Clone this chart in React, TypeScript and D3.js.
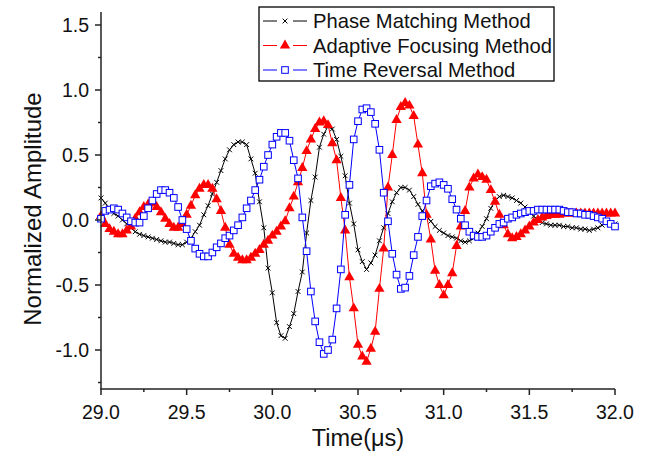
import React from "react";
import * as d3 from "d3";

// sampling grid of the signals (us)
const tStart = 29.0;
const tStep = 0.025;

const phaseMatching = [
  0.17, 0.13, 0.08, 0.05, 0.03, 0.0, -0.03, -0.06, -0.09, -0.11,
  -0.12, -0.13, -0.14, -0.15, -0.16, -0.17, -0.17, -0.18, -0.19, -0.19,
  -0.17, -0.14, -0.09, -0.04, 0.04, 0.11, 0.2, 0.29, 0.38, 0.47,
  0.54, 0.58, 0.6, 0.6, 0.58, 0.47, 0.36, 0.14, -0.06, -0.37,
  -0.56, -0.79, -0.89, -0.91, -0.82, -0.72, -0.55, -0.4, -0.1, 0.15,
  0.33, 0.56, 0.66, 0.72, 0.7, 0.62, 0.49, 0.34, 0.13, -0.03,
  -0.23, -0.32, -0.38, -0.33, -0.27, -0.16, -0.06, 0.05, 0.14, 0.21,
  0.25, 0.25, 0.23, 0.18, 0.12, 0.07, 0.03, -0.01, -0.05, -0.08,
  -0.1, -0.12, -0.13, -0.14, -0.16, -0.17, -0.16, -0.14, -0.1, -0.05,
  0.01, 0.09, 0.15, 0.18, 0.19, 0.18, 0.17, 0.15, 0.13, 0.1,
  0.06, 0.03, 0.0, -0.02, -0.03, -0.04, -0.04, -0.04, -0.05, -0.05,
  -0.06, -0.06, -0.07, -0.07, -0.08, -0.07, -0.06, -0.04, -0.02, -0.02,
  -0.03,
];

const adaptiveFocusing = [
  0.03, -0.03, -0.07, -0.09, -0.11, -0.11, -0.08, -0.05, 0.01, 0.06,
  0.1, 0.12, 0.13, 0.1, 0.06, 0.01, -0.03, -0.06, -0.06, -0.03,
  0.04, 0.11, 0.19, 0.24, 0.27, 0.27, 0.24, 0.16, 0.07, -0.06,
  -0.19, -0.26, -0.29, -0.31, -0.31, -0.29, -0.26, -0.23, -0.19, -0.16,
  -0.12, -0.09, -0.05, -0.01, 0.09, 0.18, 0.29, 0.4, 0.53, 0.62,
  0.7, 0.75, 0.76, 0.73, 0.59, 0.46, 0.17, -0.08, -0.44, -0.68,
  -0.96, -1.05, -1.09, -0.99, -0.86, -0.53, -0.22, 0.25, 0.5, 0.77,
  0.87, 0.9, 0.88, 0.8, 0.58, 0.36, 0.04, -0.15, -0.39, -0.5,
  -0.58, -0.5, -0.41, -0.2, -0.05, 0.07, 0.25, 0.32, 0.35, 0.33,
  0.31, 0.23, 0.14, 0.04, -0.04, -0.11, -0.14, -0.13, -0.11, -0.08,
  -0.05, -0.02, 0.0, 0.02, 0.03, 0.04, 0.04, 0.04, 0.05, 0.05,
  0.05, 0.05, 0.05, 0.05, 0.05, 0.05, 0.05, 0.05, 0.05, 0.05,
  0.05,
];

const timeReversal = [
  0.01, 0.07, 0.08, 0.09, 0.08, 0.05, 0.02, -0.01, -0.02, -0.02,
  0.03, 0.09, 0.15, 0.2, 0.23, 0.23, 0.21, 0.17, 0.1, 0.0,
  -0.07, -0.16, -0.22, -0.26, -0.28, -0.28, -0.25, -0.21, -0.18, -0.14,
  -0.12, -0.08, -0.04, 0.02, 0.09, 0.15, 0.23, 0.31, 0.41, 0.5,
  0.58, 0.64, 0.67, 0.67, 0.61, 0.46, 0.32, 0.02, -0.24, -0.55,
  -0.78, -0.94, -1.03, -1.0, -0.92, -0.68, -0.38, 0.04, 0.27, 0.62,
  0.76, 0.85, 0.86, 0.83, 0.74, 0.54, 0.21, -0.01, -0.26, -0.42,
  -0.53, -0.52, -0.43, -0.27, -0.13, 0.03, 0.15, 0.26, 0.28, 0.29,
  0.27, 0.24, 0.16, 0.08, 0.01, -0.04, -0.09, -0.12, -0.13, -0.13,
  -0.12, -0.09, -0.06, -0.03, -0.02, 0.01, 0.02, 0.04, 0.05, 0.06,
  0.07, 0.07, 0.08, 0.08, 0.08, 0.08, 0.08, 0.08, 0.07, 0.06,
  0.06, 0.05, 0.05, 0.04, 0.04, 0.03, 0.02, 0.01, -0.01, -0.03,
  -0.05,
];

const xTicks = [29.0, 29.5, 30.0, 30.5, 31.0, 31.5, 32.0];
const yTicks = [-1.0, -0.5, 0.0, 0.5, 1.0, 1.5];
const legendLabels = [
  "Phase Matching Method",
  "Adaptive Focusing Method",
  "Time Reversal Method",
];

const W = 646;
const H = 460;
const FONT = "'Liberation Sans', Arial, sans-serif";

const x = d3.scaleLinear().domain([29, 32]).range([101, 615]);
const y = d3.scaleLinear().domain([-1.3, 1.6]).range([389, 12]);

const toPoints = (vals: number[]) =>
  vals.map((v, i) => [tStart + i * tStep, v] as [number, number]);

const line = d3
  .line<[number, number]>()
  .x((d) => x(d[0]))
  .y((d) => y(d[1]));

const triPath = d3.symbol().type(d3.symbolTriangle).size(46)() as string;

const Cross = ({ cx, cy }: { cx: number; cy: number }) => (
  <g stroke="#000" strokeWidth={1}>
    <line x1={cx - 2.4} y1={cy - 2.4} x2={cx + 2.4} y2={cy + 2.4} />
    <line x1={cx - 2.4} y1={cy + 2.4} x2={cx + 2.4} y2={cy - 2.4} />
  </g>
);

const Tri = ({ cx, cy }: { cx: number; cy: number }) => (
  <path d={triPath} transform={`translate(${cx},${cy})`} fill="#ff0000" />
);

const Sq = ({ cx, cy }: { cx: number; cy: number }) => (
  <rect
    x={cx - 3.3}
    y={cy - 3.3}
    width={6.6}
    height={6.6}
    fill="#fff"
    stroke="#0000ff"
    strokeWidth={1}
  />
);

const series = [
  { vals: phaseMatching, color: "#000000", Marker: Cross },
  { vals: adaptiveFocusing, color: "#ff0000", Marker: Tri },
  { vals: timeReversal, color: "#0000ff", Marker: Sq },
];

export default function App() {
  const minorX = d3.range(29, 32.001, 0.25);
  const minorY = d3.range(-1.25, 1.6, 0.25);
  return (
    <svg
      width={W}
      height={H}
      style={{ position: "absolute", left: 0, top: 0, background: "#fff" }}
      fontFamily={FONT}
    >
      {series.map((s, k) => {
        const pts = toPoints(s.vals);
        return (
          <g key={k}>
            <path d={line(pts) as string} fill="none" stroke={s.color} strokeWidth={1} />
            {pts.map((p, i) => (
              <s.Marker key={i} cx={x(p[0])} cy={y(p[1])} />
            ))}
          </g>
        );
      })}

      {/* axes */}
      <g stroke="#222" strokeWidth={1.5} fill="none">
        <line x1={101} y1={y(1.6)} x2={101} y2={389} />
        <line x1={100.25} y1={389} x2={x(32)} y2={389} />
        {minorX.map((t, i) => (
          <line key={i} x1={x(t)} x2={x(t)} y1={389} y2={i % 2 === 0 ? 395 : 392} />
        ))}
        {minorY.map((v, i) => (
          <line key={i} x1={101} x2={Math.abs(Math.round(v * 4)) % 2 === 0 ? 95 : 98} y1={y(v)} y2={y(v)} />
        ))}
      </g>
      {xTicks.map((t) => (
        <text key={t} x={x(t)} y={419} fontSize={19.5} textAnchor="middle" fill="#111">
          {t.toFixed(1)}
        </text>
      ))}
      {yTicks.map((v) => (
        <text key={v} x={89} y={y(v)} dy="0.36em" fontSize={19.5} textAnchor="end" fill="#111">
          {v.toFixed(1)}
        </text>
      ))}
      <text x={358} y={446} fontSize={23.5} textAnchor="middle" fill="#111">
        Time(μs)
      </text>
      <text
        transform={`translate(41,209) rotate(-90)`}
        fontSize={24}
        textAnchor="middle"
        fill="#111"
      >
        Normalized Amplitude
      </text>

      {/* legend */}
      <rect x={259} y={7} width={295} height={74} fill="#fff" stroke="#000" strokeWidth={1.3} />
      {legendLabels.map((lab, i) => {
        const cy = 21 + i * 24.5;
        const s = series[i];
        return (
          <g key={lab}>
            <line x1={263} x2={277} y1={cy} y2={cy} stroke={s.color} strokeWidth={1} />
            <line x1={293} x2={307} y1={cy} y2={cy} stroke={s.color} strokeWidth={1} />
            <s.Marker cx={285} cy={cy} />
            <text x={313} y={cy} dy="0.36em" fontSize={20.2} fill="#111">
              {lab}
            </text>
          </g>
        );
      })}
    </svg>
  );
}
